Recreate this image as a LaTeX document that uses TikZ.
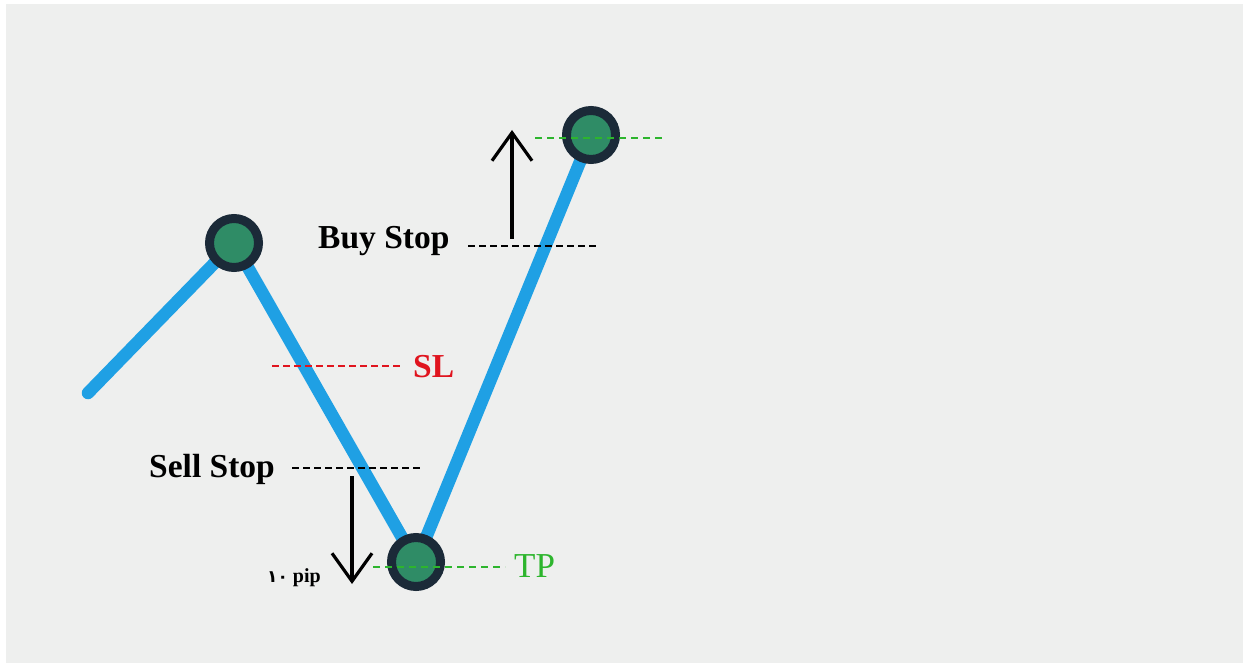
\documentclass[tikz,border=0pt]{standalone}
\usepackage{fontspec}
\setmainfont{Liberation Serif}
\newfontfamily\arabicfont[Script=Arabic]{DejaVu Sans}
\usetikzlibrary{arrows.meta}
\definecolor{panel}{HTML}{EEEFEE}
\definecolor{trend}{HTML}{1FA0E4}
\definecolor{ring}{HTML}{1B2A38}
\definecolor{dotgreen}{HTML}{2F8C66}
\definecolor{tpgreen}{HTML}{2DB52D}
\definecolor{slred}{HTML}{E0141E}
\tikzset{
  pivot/.style={circle, draw=ring, line width=9pt, fill=dotgreen, minimum size=49pt, inner sep=0pt},
  lbl/.style={inner sep=0pt, anchor=base west, font=\fontsize{33.5}{36}\selectfont\bfseries},
  dashblack/.style={draw=black, line width=2pt, dash pattern=on 7pt off 4pt},
  dashgreen/.style={draw=tpgreen, line width=1.6pt, dash pattern=on 7pt off 5pt},
  dashred/.style={draw=slred, line width=1.7pt, dash pattern=on 7pt off 4pt},
  movearrow/.style={draw=black, line width=3.8pt, -{Straight Barb[length=28pt,width=40pt,line width=3.2pt]}},
  trendline/.style={draw=trend, line width=12.5pt, line cap=round, line join=round}
}
\begin{document}
\begin{tikzpicture}[x=1pt,y=-1pt]
\useasboundingbox (0,0) rectangle (1245,663);
\fill[white] (0,0) rectangle (1245,663);
\fill[panel] (6,4) rectangle (1243,663);
% pivot positions
\coordinate (start) at (88,393);
\coordinate (c1) at (234,243);
\coordinate (c2) at (416,562);
\coordinate (c3) at (591,135);
% trend line
\path[trendline] (start) -- (c1) -- (c2) -- (c3);
% pivots
\node[pivot] (p1) at (c1) {};
\node[pivot] (p2) at (c2) {};
\node[pivot] (p3) at (c3) {};
% level coordinates
\coordinate (tpA) at (373,567);
\coordinate (tpB) at (505,567);
\coordinate (topA) at (535,138);
\coordinate (topB) at (665,138);
\coordinate (bsA) at (468,246);
\coordinate (bsB) at (598,246);
\coordinate (slA) at (272,366);
\coordinate (slB) at (400,366);
\coordinate (ssA) at (292,468);
\coordinate (ssB) at (422,468);
\coordinate (upFrom) at (512,239);
\coordinate (upTo) at (512,130);
\coordinate (dnFrom) at (352,476);
\coordinate (dnTo) at (352,584);
% dashed levels
\path[dashgreen] (tpA) -- (tpB);
\path[dashgreen] (topA) -- (topB);
\path[dashblack] (bsA) -- (bsB);
\path[dashred] (slA) -- (slB);
\path[dashblack] (ssA) -- (ssB);
% arrows
\path[movearrow] (upFrom) -- (upTo);
\path[movearrow] (dnFrom) -- (dnTo);
% labels
\node[lbl] (buystop) at (318,249) {Buy Stop};
\node[lbl] (sellstop) at (149,477) {Sell Stop};
\node[lbl, text=slred] (sl) at (413,377) {SL};
\node[lbl, text=tpgreen, font=\fontsize{35}{38}\selectfont] (tp) at (514,577) {TP};
\node[inner sep=0pt, anchor=base west, font=\fontsize{20}{22}\selectfont\bfseries] (pip) at (267,582) {{\arabicfont\fontsize{17}{20}\selectfont ۱۰} pip};
\end{tikzpicture}
\end{document}
